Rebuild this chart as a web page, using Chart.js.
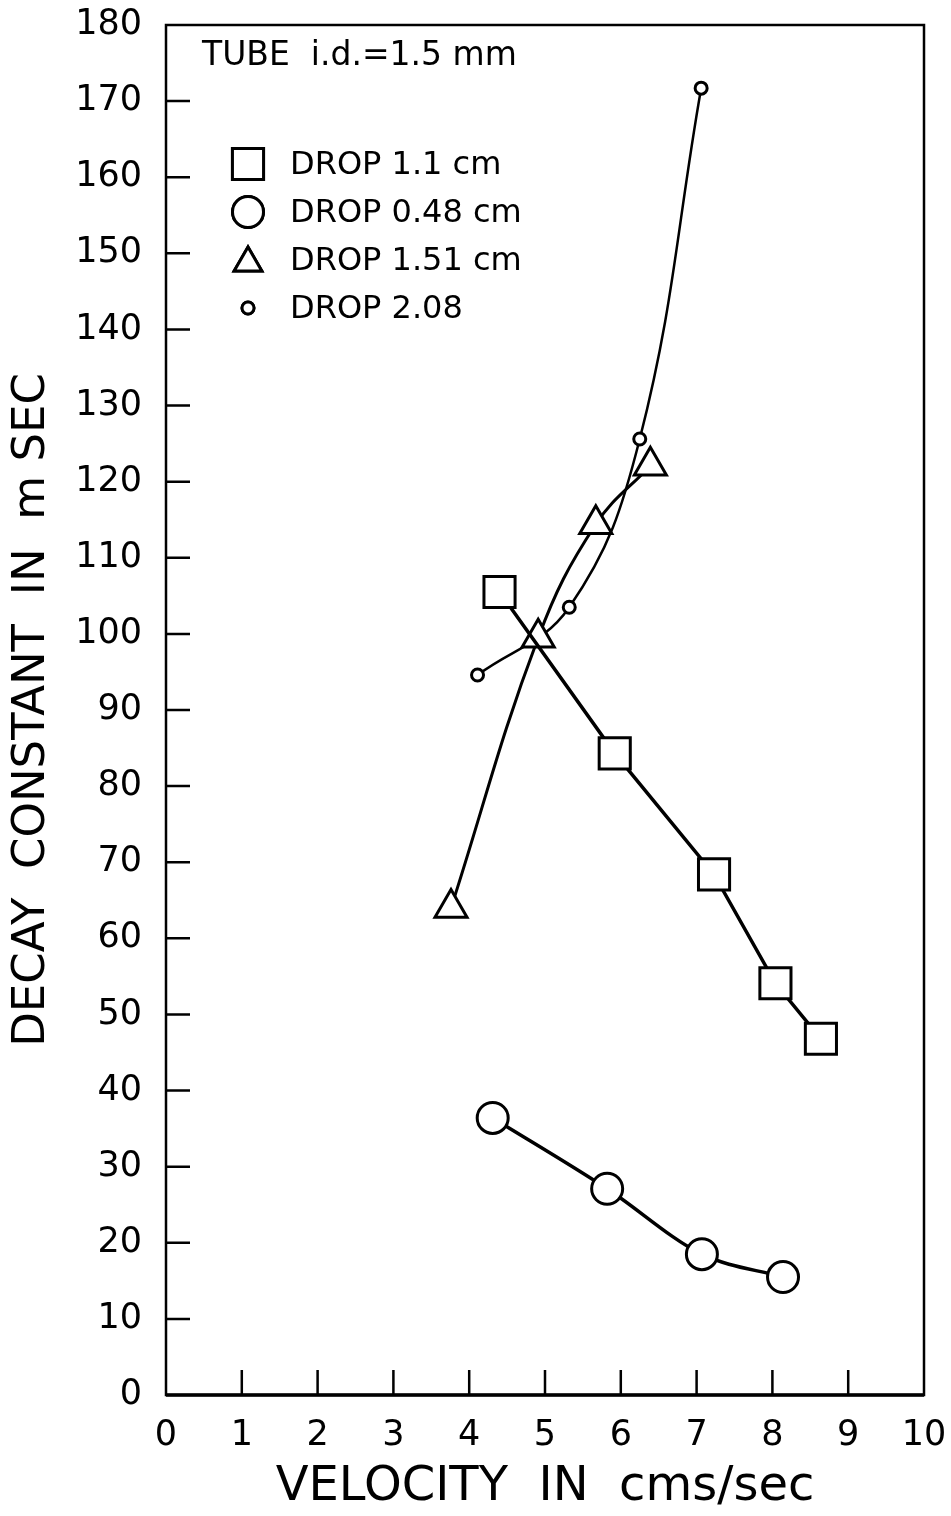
<!DOCTYPE html>
<html>
<head>
<meta charset="utf-8">
<title>Decay constant vs velocity</title>
<script src="https://cdn.jsdelivr.net/npm/chart.js@4.4.1/dist/chart.umd.min.js"></script>
<style>
  html, body { margin: 0; padding: 0; background: #fff; }
  #decayChart { display: block; }
</style>
</head>
<body>
<canvas id="decayChart" width="951" height="1516"></canvas>
<script>
// Decay constant of drops in a 1.5 mm tube, against drop velocity
const velTicks = [0, 1, 2, 3, 4, 5, 6, 7, 8, 9, 10];
const decayTicks = [0, 10, 20, 30, 40, 50, 60, 70, 80, 90, 100, 110, 120, 130, 140, 150, 160, 170, 180];

const drop11Vel = [4.40, 5.92, 7.23, 8.04, 8.64];
const drop11Decay = [105.5, 84.3, 68.4, 54.1, 46.8];

const drop048Vel = [4.31, 5.82, 7.07, 8.14];
const drop048Decay = [36.4, 27.1, 18.5, 15.5];

const drop151Vel = [3.76, 4.91, 5.67, 6.39];
const drop151Decay = [64.0, 99.5, 114.4, 122.1];

const drop208Vel = [4.11, 5.32, 6.25, 7.06];
const drop208Decay = [94.6, 103.5, 125.6, 171.7];

const tubeNote = 'TUBE  i.d.=1.5 mm';

function pts(xs, ys) {
  return xs.map((x, i) => ({ x, y: ys[i] }));
}

const FONT = "'DejaVu Sans', sans-serif";
Chart.defaults.font.family = FONT;
Chart.defaults.color = '#000';

// box round the plot plus the short inward tick marks
const frame = {
  id: 'frame',
  beforeDatasetsDraw(chart) {
    const { ctx, chartArea: a, scales } = chart;
    ctx.save();
    ctx.strokeStyle = '#000';
    ctx.lineWidth = 2.5;
    ctx.strokeRect(a.left, a.top, a.right - a.left, a.bottom - a.top);
    ctx.lineWidth = 3.5;
    ctx.beginPath();
    ctx.moveTo(a.left, a.bottom);
    ctx.lineTo(a.right, a.bottom);
    ctx.stroke();

    ctx.lineWidth = 2.5;
    ctx.beginPath();
    velTicks.slice(1, -1).forEach(v => {
      const x = scales.x.getPixelForValue(v);
      ctx.moveTo(x, a.bottom);
      ctx.lineTo(x, a.bottom - 25);
    });
    decayTicks.slice(1, -1).forEach(v => {
      const y = scales.y.getPixelForValue(v);
      ctx.moveTo(a.left, y);
      ctx.lineTo(a.left + 24, y);
    });
    ctx.stroke();
    ctx.restore();
  }
};

// tube note and symbol key, top left inside the plot
const keyBox = {
  id: 'keyBox',
  afterDraw(chart) {
    const { ctx, chartArea: a } = chart;
    ctx.save();
    ctx.fillStyle = '#000';
    ctx.textAlign = 'left';
    ctx.textBaseline = 'alphabetic';
    ctx.font = '33px ' + FONT;
    ctx.fillText(tubeNote, a.left + 36, a.top + 40);

    ctx.font = '32px ' + FONT;
    ctx.textBaseline = 'middle';
    chart.data.datasets.forEach((ds, i) => {
      const y = a.top + 139 + i * 48;
      const r = ds.pointStyle === 'triangle' ? 16 : ds.pointRadius;
      ctx.strokeStyle = '#000';
      ctx.fillStyle = '#fff';
      ctx.lineWidth = ds.pointBorderWidth;
      Chart.helpers.drawPoint(ctx, { pointStyle: ds.pointStyle, radius: r, rotation: 0, borderWidth: ds.pointBorderWidth }, a.left + 82, y + (ds.pointStyle === 'triangle' ? 3 : 0));
      ctx.fill();
      ctx.stroke();
      ctx.fillStyle = '#000';
      ctx.fillText(ds.label, a.left + 124, y + 2);
    });
    ctx.restore();
  }
};

function series(label, xs, ys, style, radius, lineW, tension, mode) {
  return {
    label,
    data: pts(xs, ys),
    showLine: true,
    borderColor: '#000',
    borderWidth: lineW,
    tension,
    cubicInterpolationMode: mode || 'default',
    pointStyle: style,
    pointRadius: radius,
    pointHoverRadius: radius,
    pointBorderWidth: 3,
    pointBorderColor: '#000',
    pointBackgroundColor: '#fff'
  };
}

// keep the plot box fixed: no extra room for overhanging end labels
function fitX(s) {
  s.height = 121;
  s.paddingLeft = 0;
  s.paddingRight = 0;
}
function fitY(s) {
  s.width = 166;
  s.paddingTop = 0;
  s.paddingBottom = 0;
}

new Chart(document.getElementById('decayChart'), {
  type: 'scatter',
  data: {
    datasets: [
      series('DROP 1.1 cm', drop11Vel, drop11Decay, 'rect', 22, 3.5, 0),
      series('DROP 0.48 cm', drop048Vel, drop048Decay, 'circle', 15.5, 3.5, 0.4, 'monotone'),
      series('DROP 1.51 cm', drop151Vel, drop151Decay, 'triangle', 18.5, 3, 0.4),
      series('DROP 2.08', drop208Vel, drop208Decay, 'circle', 6, 2.5, 0.4)
    ]
  },
  options: {
    responsive: false,
    animation: false,
    devicePixelRatio: 1,
    layout: { padding: { left: 0, right: 27, top: 23, bottom: 0 } },
    plugins: { legend: { display: false }, tooltip: { enabled: false } },
    scales: {
      x: {
        type: 'linear',
        min: 0,
        max: 10,
        afterBuildTicks: s => { s.ticks = velTicks.map(v => ({ value: v })); },
        afterFit: fitX,
        grid: { display: false, drawTicks: false },
        border: { display: false },
        ticks: { autoSkip: false, maxRotation: 0, padding: 20, font: { size: 35 } },
        title: {
          display: true,
          text: 'VELOCITY  IN  cms/sec',
          font: { size: 48 },
          padding: { top: 0, bottom: 0 }
        }
      },
      y: {
        type: 'linear',
        min: 0,
        max: 180,
        afterBuildTicks: s => { s.ticks = decayTicks.map(v => ({ value: v })); },
        afterFit: fitY,
        grid: { display: false, drawTicks: false },
        border: { display: false },
        ticks: { autoSkip: false, padding: 24, font: { size: 35 } },
        title: {
          display: true,
          text: 'DECAY  CONSTANT  IN  m SEC',
          font: { size: 45 },
          padding: { top: 5, bottom: 0 }
        }
      }
    }
  },
  plugins: [frame, keyBox]
});
</script>
</body>
</html>
